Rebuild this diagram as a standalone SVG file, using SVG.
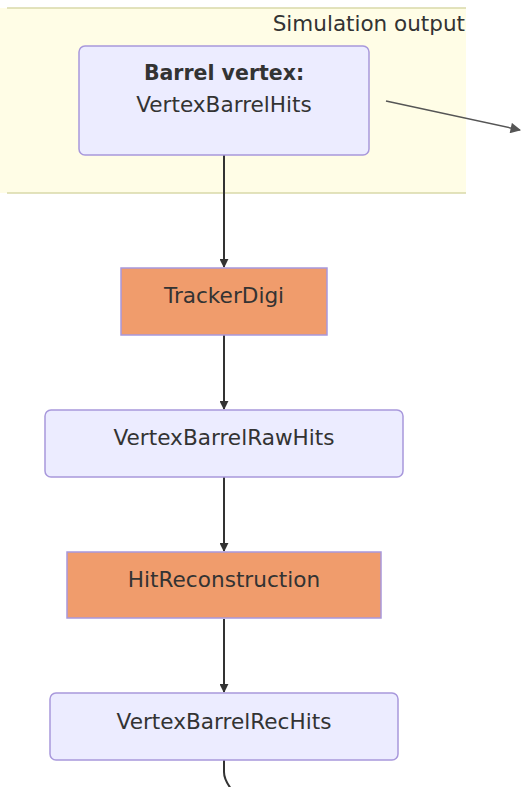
<svg xmlns="http://www.w3.org/2000/svg" width="522" height="787" viewBox="0 0 522 787">
<defs>
<style>
.node rect{fill:#ececff;stroke:#a898dc;stroke-width:1.5}
.proc rect{fill:#f09c6c;stroke:#a898dc;stroke-width:1.5}
text{font-family:"DejaVu Sans","Open Sans",sans-serif;font-size:21.6px;fill:#333;text-anchor:middle}
.edge{stroke:#333;stroke-width:2;fill:none}
</style>
<marker id="ah" viewBox="0 0 10 10" refX="9" refY="5" markerWidth="4.5" markerHeight="4.5" orient="auto" markerUnits="strokeWidth"><path d="M0,0L10,5L0,10z" fill="#333"/></marker>
<marker id="ah2" viewBox="0 0 10 10" refX="9" refY="5" markerWidth="8" markerHeight="7" orient="auto" markerUnits="strokeWidth"><path d="M0,0L10,5L0,10z" fill="#555"/></marker>
</defs>
<g id="cluster-sim">
<rect x="-2" y="8" width="468" height="185" fill="#fffde6" stroke="none"/>
<line x1="7" y1="8" x2="466" y2="8" stroke="#d8d8a8" stroke-width="1.5"/>
<line x1="7" y1="193" x2="466" y2="193" stroke="#d8d8a8" stroke-width="1.5"/>
<text x="465" y="31" style="text-anchor:end;font-size:21.5px">Simulation output</text>
</g>
<g id="connectors">
<path class="edge" d="M386,101L520,130" style="stroke:#555;stroke-width:1.5" marker-end="url(#ah2)"/>
<path class="edge" d="M224,155L224,267" marker-end="url(#ah)"/>
<path class="edge" d="M224,335L224,409" marker-end="url(#ah)"/>
<path class="edge" d="M224,477L224,551" marker-end="url(#ah)"/>
<path class="edge" d="M224,619L224,692" marker-end="url(#ah)"/>
<path class="edge" d="M224,760L224,772Q224,780 232,790"/>
</g>
<g id="barrel-vertex" class="node">
<rect x="79" y="46" width="290" height="109" rx="6"/>
<text x="224" y="80" style="font-weight:bold;font-size:20.5px">Barrel vertex:</text>
<text x="224" y="112">VertexBarrelHits</text>
</g>
<g id="tracker-digi" class="proc">
<rect x="121" y="268" width="206" height="67"/>
<text x="224" y="303">TrackerDigi</text>
</g>
<g id="raw-hits" class="node">
<rect x="45" y="410" width="358" height="67" rx="6"/>
<text x="224" y="445">VertexBarrelRawHits</text>
</g>
<g id="hit-reco" class="proc">
<rect x="67" y="552" width="314" height="66"/>
<text x="224" y="587">HitReconstruction</text>
</g>
<g id="rec-hits" class="node">
<rect x="50" y="693" width="348" height="67" rx="6"/>
<text x="224" y="729">VertexBarrelRecHits</text>
</g>
</svg>
